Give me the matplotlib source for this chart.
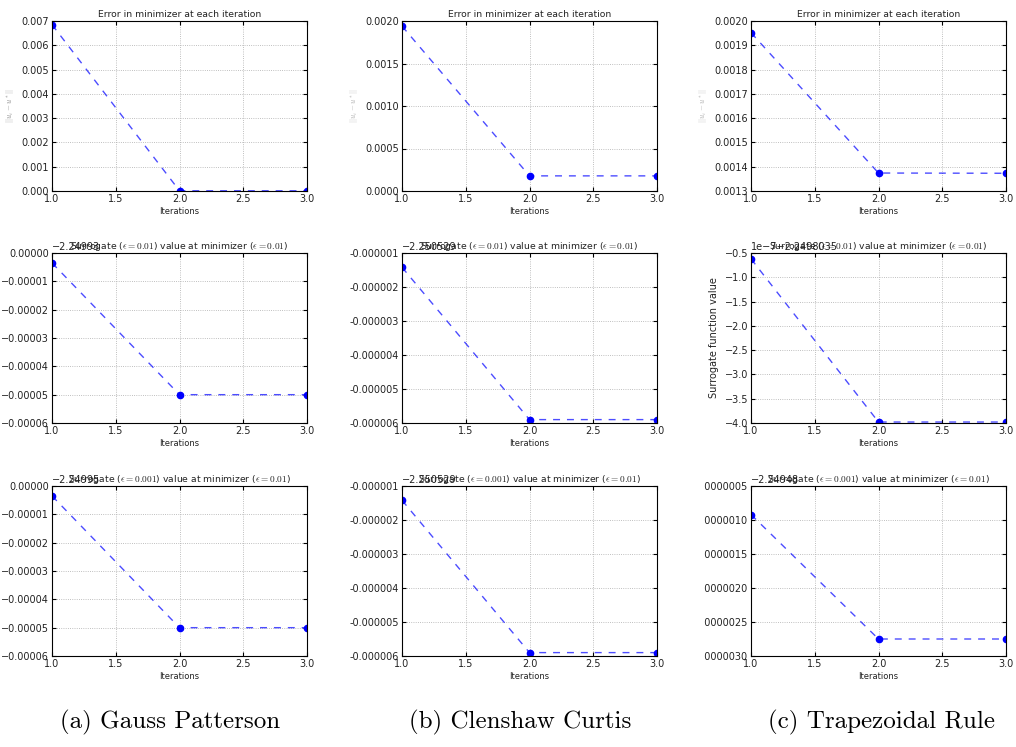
import numpy as np
import matplotlib.pyplot as plt
from matplotlib.ticker import FuncFormatter
from matplotlib.transforms import Bbox

plt.rcParams["mathtext.fontset"] = "cm"
plt.rcParams["font.family"] = "DejaVu Sans"

# data
iters = [1, 2, 3]

# row 1: error in minimizer
err_gp = [0.00685, 0.00001, 0.00001]
err_cc = [0.00194, 0.000178, 0.000178]
err_tr = [0.001952, 0.001374, 0.001373]

# row 2: surrogate (eps=0.01), shown relative to offset
sur1_gp = [-0.0000035, -0.00005, -0.00005]
sur1_cc = [-0.00000142, -0.0000059, -0.0000059]
sur1_tr = [-0.62, -3.98, -3.98]  # in units of 1e-7
off1 = ["\u22122.24993", "\u22122.250529", "1e\u22127\u22122.2498035"]

# row 3: surrogate (eps=0.001)
sur2_gp = [-0.0000035, -0.00005, -0.00005]
sur2_cc = [-0.00000142, -0.0000059, -0.0000059]
sur2_tr = [-0.00000092, -0.00000275, -0.00000275]
off2 = ["\u22122.24995", "\u22122.250529", "\u22122.24948"]

captions = ["(a) Gauss Patterson", "(b) Clenshaw Curtis", "(c) Trapezoidal Rule"]

title_err = "Error in minimizer at each iteration"
title_s1 = r"Surrogate ($\epsilon = 0.01$) value at minimizer ($\epsilon = 0.01$)"
title_s2 = r"Surrogate ($\epsilon = 0.001$) value at minimizer ($\epsilon = 0.01$)"

W, H = 1016, 747
fig = plt.figure(figsize=(W / 100, H / 100), dpi=100)

lefts = [52, 402, 751]
tops = [21, 253, 486]
aw, ah = 255, 170


def make_ax(col, row):
    l, t = lefts[col], tops[row]
    return fig.add_axes([l / W, 1 - (t + ah) / H, aw / W, ah / H])


def fmt(spec, uminus=True):
    def f(v, pos):
        s = spec % v
        if s.startswith("-") and abs(v) < 1e-15:
            s = s[1:]
        if uminus:
            s = s.replace("-", "\u2212")
        return s
    return FuncFormatter(f)


def style(ax, yvals, ylim, yticks, yfmt, title, xlabel=True):
    ax.plot(iters, yvals, "--", color="b", lw=1, alpha=0.7, dashes=(5, 5))
    ax.plot(iters, yvals, "o", color="b", ms=4.5, mec="b", ls="none")
    ax.set_xlim(1, 3)
    ax.set_ylim(*ylim)
    ax.set_xticks([1.0, 1.5, 2.0, 2.5, 3.0])
    ax.xaxis.set_major_formatter(FuncFormatter(lambda v, p: "%.1f" % v))
    ax.set_yticks(yticks)
    ax.yaxis.set_major_formatter(yfmt)
    ax.grid(True, ls=":", color="#aaaaaa", lw=0.6)
    ax.tick_params(direction="in", top=True, right=True, labelsize=7, length=3, pad=2,
                   labelcolor="#222222")
    ax.set_title(title, fontsize=6.7, pad=3, color="#222222")
    if xlabel:
        ax.set_xlabel("Iterations", fontsize=6, labelpad=2, color="#222222")


def offset(ax, s):
    ax.text(0, 1.005, s, transform=ax.transAxes, fontsize=7, ha="left", va="bottom",
            color="#222222")


# row 1
ax = make_ax(0, 0)
style(ax, err_gp, (0, 0.007), np.arange(0, 0.0071, 0.001), fmt("%.3f"), title_err)
ax.set_ylabel(r"$||u_i - u^*||$", fontsize=5.5, color="#888888")
ax = make_ax(1, 0)
style(ax, err_cc, (0, 0.002), np.arange(0, 0.00201, 0.0005), fmt("%.4f"), title_err)
ax.set_ylabel(r"$||u_i - u^*||$", fontsize=5.5, color="#aaaaaa")
ax = make_ax(2, 0)
style(ax, err_tr, (0.0013, 0.002), np.arange(0.0013, 0.00201, 0.0001), fmt("%.4f"), title_err)
ax.set_ylabel(r"$||u_i - u^*||$", fontsize=5.5, color="#aaaaaa")

# row 2
ax = make_ax(0, 1)
style(ax, sur1_gp, (-0.00006, 0), np.arange(-0.00006, 0.000001, 0.00001), fmt("%.5f"), title_s1)
offset(ax, off1[0])
ax = make_ax(1, 1)
style(ax, sur1_cc, (-0.000006, -0.000001), np.arange(-0.000006, -0.0000009, 0.000001),
      fmt("%.6f", uminus=False), title_s1)
offset(ax, off1[1])
ax = make_ax(2, 1)
style(ax, sur1_tr, (-4.0, -0.5), np.arange(-4.0, -0.49, 0.5), fmt("%.1f"), title_s1)
offset(ax, off1[2])
ax.set_ylabel("Surrogate function value", fontsize=7, color="#222222")

# row 3
ax = make_ax(0, 2)
style(ax, sur2_gp, (-0.00006, 0), np.arange(-0.00006, 0.000001, 0.00001), fmt("%.5f"), title_s2)
offset(ax, off2[0])
ax = make_ax(1, 2)
style(ax, sur2_cc, (-0.000006, -0.000001), np.arange(-0.000006, -0.0000009, 0.000001),
      fmt("%.6f", uminus=False), title_s2)
offset(ax, off2[1])
ax = make_ax(2, 2)
style(ax, sur2_tr, (-0.000003, -0.0000005), np.arange(-0.000003, -0.00000049, 0.0000005),
      fmt("%.7f"), title_s2)
offset(ax, off2[2])
ax_clip = ax

# captions
cap_x = [170, 520, 882]
for x, c in zip(cap_x, captions):
    fig.text(x / W, 1 - 722 / H, c, fontsize=18, family="cmr10", ha="center", va="center")

# the last panel's tick labels are cut off by the subfigure edge
fig.canvas.draw()
clip = Bbox.from_extents(704, 0, W, H)
for lab in ax_clip.get_yticklabels():
    lab.set_clip_on(True)
    lab.set_clip_box(clip)

fig.savefig("out.png", dpi=100)
